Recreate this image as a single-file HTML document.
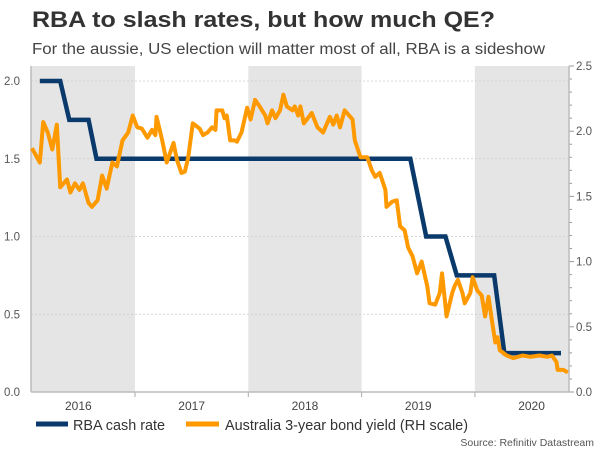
<!DOCTYPE html>
<html><head><meta charset="utf-8"><style>
body{margin:0;background:#fff;font-family:"Liberation Sans",sans-serif;}
svg{display:block}
</style></head><body>
<svg id="c" width="600" height="450" xmlns="http://www.w3.org/2000/svg">
<text x="32" y="27" font-size="22.5" font-weight="bold" fill="#333" textLength="463" lengthAdjust="spacingAndGlyphs">RBA to slash rates, but how much QE?</text>
<text x="32" y="54" font-size="15.5" fill="#444" textLength="513" lengthAdjust="spacingAndGlyphs">For the aussie, US election will matter most of all, RBA is a sideshow</text>
<g id="bands"></g><g id="grid"></g><g id="axes"></g><g id="series"></g>
<g>
<line x1="36" y1="424" x2="68" y2="424" stroke="#0a3a6b" stroke-width="5"/>
<text x="73" y="430" font-size="15" fill="#333" textLength="92" lengthAdjust="spacingAndGlyphs">RBA cash rate</text>
<line x1="186" y1="424" x2="219" y2="424" stroke="#ff9900" stroke-width="5"/>
<text x="225" y="430" font-size="15" fill="#333" textLength="243" lengthAdjust="spacingAndGlyphs">Australia 3-year bond yield (RH scale)</text>
</g>
<text x="594" y="446" font-size="10.5" fill="#555" text-anchor="end">Source: Refinitiv Datastream</text>
</svg>
<script>
const years=[2016,2017,2018,2019,2020];
const leftTicks=[0,0.5,1.0,1.5,2.0];
const rightTicks=[0,0.5,1.0,1.5,2.0,2.5];
const rbaT=[2016.16,2016.34,2016.42,2016.59,2016.66,2019.43,2019.57,2019.74,2019.84,2020.17,2020.26,2020.76];
const rbaV=[2.0,2.0,1.75,1.75,1.5,1.5,1.0,1.0,0.75,0.75,0.25,0.25];
const yT=[2016.09,2016.16,2016.19,2016.23,2016.27,2016.31,2016.34,2016.40,2016.43,2016.47,2016.51,2016.54,2016.59,2016.62,2016.67,2016.71,2016.75,2016.80,2016.84,2016.89,2016.94,2016.98,2017.02,2017.06,2017.11,2017.15,2017.18,2017.19,2017.24,2017.28,2017.34,2017.37,2017.41,2017.44,2017.47,2017.51,2017.57,2017.60,2017.64,2017.68,2017.71,2017.72,2017.77,2017.79,2017.81,2017.84,2017.88,2017.90,2017.94,2017.99,2018.02,2018.06,2018.10,2018.15,2018.17,2018.21,2018.24,2018.28,2018.31,2018.34,2018.39,2018.41,2018.44,2018.46,2018.49,2018.56,2018.61,2018.66,2018.72,2018.75,2018.78,2018.81,2018.85,2018.92,2018.94,2018.99,2019.05,2019.09,2019.12,2019.16,2019.21,2019.22,2019.27,2019.31,2019.34,2019.38,2019.41,2019.45,2019.49,2019.53,2019.58,2019.60,2019.65,2019.69,2019.71,2019.75,2019.80,2019.82,2019.85,2019.89,2019.91,2019.96,2019.98,2020.02,2020.06,2020.09,2020.12,2020.15,2020.18,2020.20,2020.22,2020.28,2020.34,2020.42,2020.49,2020.57,2020.64,2020.68,2020.72,2020.73,2020.78,2020.82];
const yV=[1.87,1.76,2.07,1.99,1.86,2.05,1.57,1.63,1.53,1.60,1.55,1.60,1.45,1.42,1.47,1.66,1.56,1.76,1.73,1.93,1.99,2.12,2.03,2.02,1.95,2.01,1.97,2.11,1.93,1.76,1.91,1.78,1.68,1.69,1.80,2.06,2.02,1.97,1.99,2.03,2.01,2.16,2.16,2.10,2.12,1.93,1.93,1.92,1.99,2.18,2.09,2.24,2.19,2.12,2.06,2.16,2.10,2.16,2.28,2.19,2.16,2.19,2.12,2.19,2.06,2.14,2.03,1.99,2.11,2.05,2.12,2.03,2.16,2.09,1.93,1.80,1.80,1.70,1.65,1.68,1.55,1.42,1.46,1.47,1.27,1.24,1.11,1.04,0.91,1.00,0.81,0.68,0.67,0.76,0.91,0.58,0.76,0.81,0.86,0.76,0.68,0.76,0.88,0.78,0.74,0.58,0.73,0.55,0.38,0.42,0.32,0.28,0.26,0.28,0.27,0.28,0.27,0.28,0.23,0.17,0.17,0.15];
const L=31,R=569,T=66,B=392;
const X=t=>135+(t-2017)*113.3;
const YL=v=>B-v*155.5;
const YR=v=>B-v*(B-T)/2.5;
const NS="http://www.w3.org/2000/svg";
function mk(tag,par,attrs){const e=document.createElementNS(NS,tag);for(const k in attrs)e.setAttribute(k,attrs[k]);document.getElementById(par).appendChild(e);return e;}
years.forEach((y,i)=>{if(i%2===0){const x0=Math.max(L,X(y)),x1=Math.min(R,X(y+1));
const r=mk('rect','bands',{x:x0,y:T,width:x1-x0,height:B-T,fill:'#e5e5e5'});

}
const t=mk('text','axes',{x:X(y+0.5),y:410,'font-size':12,fill:'#444','text-anchor':'middle'});t.textContent=y;


if(y>2016){const k=mk('line','axes',{x1:X(y),x2:X(y),y1:B,y2:B+5,stroke:'#aaa'});

}
});
leftTicks.forEach(v=>{
if(v>0){const g=mk('line','grid',{x1:L,x2:R,y1:YL(v),y2:YL(v),stroke:'#ccc','stroke-dasharray':'2,2','stroke-width':0.8});

}
const t=mk('text','axes',{x:20,y:YL(v)+4,'font-size':11.5,fill:'#555','text-anchor':'end'});t.textContent=v.toFixed(1);


});
rightTicks.forEach(v=>{
const t=mk('text','axes',{x:576,y:YR(v)+4,'font-size':11.5,fill:'#555'});t.textContent=v.toFixed(1);


for(let m=0;m<5;m++){const vv=v+m*0.1;if(vv>2.5)break;
const k=mk('line','axes',{x1:R,x2:R+(m===0?5:3),y1:YR(vv),y2:YR(vv),stroke:'#999'});

}
});
[['y-left-axis',L,T,L,B],['y-right-axis',R,T,R,B],['x-axis',L,B,R,B]].forEach(a=>{
const l=mk('line','axes',{x1:a[1],y1:a[2],x2:a[3],y2:a[4],stroke:'#bbb','stroke-width':1.5});

});
const p1=mk('polyline','series',{points:rbaT.map((t,i)=>X(t)+','+YL(rbaV[i])).join(' '),fill:'none',stroke:'#0a3a6b','stroke-width':4.5});


const p2=mk('polyline','series',{points:yT.map((t,i)=>X(t)+','+YR(yV[i])).join(' '),fill:'none',stroke:'#ff9900','stroke-width':4,'stroke-linejoin':'round'});


</script>
</body></html>
